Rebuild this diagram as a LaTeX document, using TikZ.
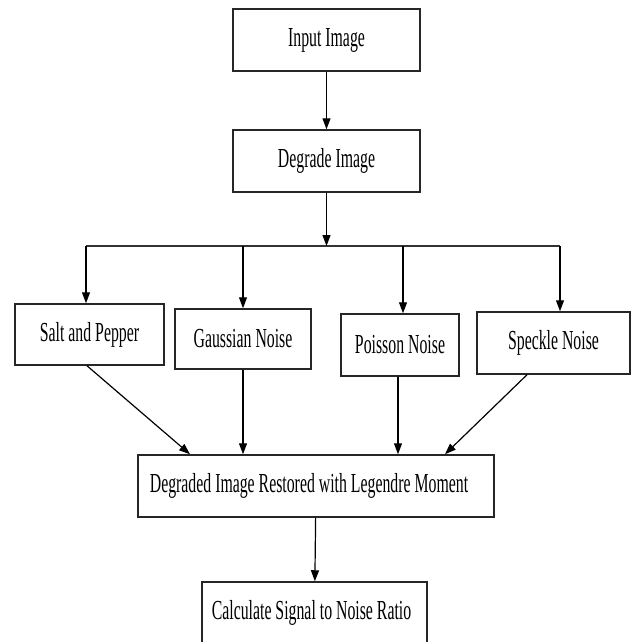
\documentclass[tikz,border=0pt]{standalone}
\usepackage{fontspec}
\setmainfont{Liberation Serif}[FakeStretch=0.575]
\usepackage{tikz}
\usetikzlibrary{arrows.meta, positioning}

\begin{document}
\begin{tikzpicture}[x=1pt, y=-1pt, >={Triangle[length=11pt, width=8pt]},
    stage/.style={rectangle, draw, line width=1.5pt, draw=black!85, align=center, inner sep=0pt,
                  minimum height=62pt, font=\fontsize{27.5}{32}\selectfont},
    link/.style={->, draw, line width=1.2pt}]
    \useasboundingbox (0,0) rectangle (638,642);
    \clip (0,0) rectangle (638,642);

    \node [stage, minimum width=187pt] (input) at (326.5,40) {Input Image};
    \node [stage, minimum width=187pt] (degrade) at (326.5,161) {Degrade Image};
    \node [stage, minimum width=149pt, minimum height=61pt] (salt) at (89.5,334.5) {Salt and Pepper};
    \node [stage, minimum width=136pt, minimum height=60pt] (gauss) at (243,339) {Gaussian Noise};
    \node [stage, minimum width=118pt] (poisson) at (400,345) {Poisson Noise};
    \node [stage, minimum width=153pt] (speckle) at (553.5,343) {Speckle Noise};
    \node [stage, minimum width=356pt] (restored) at (316,486) {Degraded Image Restored with Legendre Moment\hspace{14pt}};
    \node [stage, minimum width=225pt] (snr) at (314.5,613) {Calculate Signal to Noise Ratio\hspace{6pt}};

    % split line
    \coordinate (busL) at (86,246);
    \coordinate (busR) at (560,246);
    \draw [line width=1.5pt, draw=black!80] (busL) -- (busR);

    \path [link] (input) -- (degrade);
    \path [link] (degrade.south) -- (degrade.south |- busL);
    \path [link] (busL) -- (busL |- salt.north);
    \path [link] (gauss.north |- busL) -- (gauss.north);
    \path [link] ([xshift=3pt]poisson.north |- busL) -- ([xshift=3pt]poisson.north);
    \path [link] (busR) -- (busR |- speckle.north);

    \path [link] ([xshift=-2.5pt]salt.south) -- ([xshift=-126pt]restored.north);
    \path [link] (gauss.south) -- (gauss.south |- restored.north);
    \path [link] ([xshift=-2pt]poisson.south) -- ([xshift=-2pt]poisson.south |- restored.north);
    \path [link] ([xshift=-26.5pt]speckle.south) -- ([xshift=129pt]restored.north);
    \path [link] (restored) -- (snr);
\end{tikzpicture}
\end{document}
